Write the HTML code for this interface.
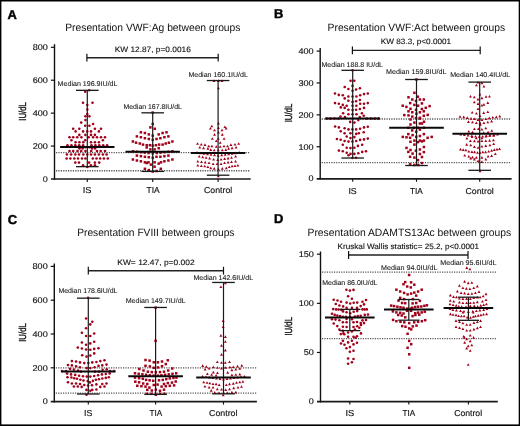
<!DOCTYPE html><html><head><meta charset="utf-8"><title>Figure</title><style>html,body{margin:0;padding:0;background:#fff;width:520px;height:426px;overflow:hidden}svg{display:block;will-change:transform}text{font-family:"Liberation Sans", sans-serif;text-rendering:geometricPrecision}</style></head><body>
<svg width="520" height="426" viewBox="0 0 520 426">
<rect x="0" y="0" width="520" height="426" fill="#fff"/>
<text x="7.60" y="18.50" font-size="12.9" font-weight="bold" fill="#000" stroke="#000" stroke-width="0.45">A</text>
<text x="65.20" y="31.00" font-size="10.5" font-weight="normal" fill="#111" textLength="175.30" lengthAdjust="spacingAndGlyphs">Presentation VWF:Ag between groups</text>
<text x="114.70" y="52.10" font-size="7.8" font-weight="normal" fill="#111" stroke="#111" stroke-width="0.12" textLength="76.10" lengthAdjust="spacingAndGlyphs">KW 12.87, p=0.0016</text>
<line x1="86.90" y1="57.70" x2="218.20" y2="57.70" stroke="#222" stroke-width="1.4" />
<line x1="86.90" y1="53.80" x2="86.90" y2="61.60" stroke="#111" stroke-width="1.2" />
<line x1="218.20" y1="53.80" x2="218.20" y2="61.60" stroke="#111" stroke-width="1.2" />
<line x1="56.00" y1="152.66" x2="250.20" y2="152.66" stroke="#555" stroke-width="1.3" stroke-dasharray="1.2 1.2"/>
<line x1="56.00" y1="170.77" x2="250.20" y2="170.77" stroke="#555" stroke-width="1.3" stroke-dasharray="1.2 1.2"/>
<g fill="#a2001a"><circle cx="85.20" cy="91.80" r="1.3"/><circle cx="89.20" cy="90.30" r="1.3"/><circle cx="83.00" cy="102.80" r="1.3"/><circle cx="92.50" cy="102.80" r="1.3"/><circle cx="87.30" cy="105.00" r="1.3"/><circle cx="87.30" cy="109.50" r="1.3"/><circle cx="87.30" cy="114.00" r="1.3"/><circle cx="85.40" cy="116.30" r="1.3"/><circle cx="89.40" cy="116.30" r="1.3"/><circle cx="85.40" cy="120.10" r="1.3"/><circle cx="81.20" cy="122.60" r="1.3"/><circle cx="93.10" cy="124.00" r="1.3"/><circle cx="85.20" cy="125.70" r="1.3"/><circle cx="89.40" cy="125.70" r="1.3"/><circle cx="73.20" cy="128.80" r="1.3"/><circle cx="79.30" cy="128.80" r="1.3"/><circle cx="94.90" cy="128.80" r="1.3"/><circle cx="101.00" cy="128.80" r="1.3"/><circle cx="75.60" cy="131.40" r="1.3"/><circle cx="83.10" cy="131.40" r="1.3"/><circle cx="87.30" cy="131.40" r="1.3"/><circle cx="91.00" cy="131.40" r="1.3"/><circle cx="98.90" cy="131.40" r="1.3"/><circle cx="79.30" cy="134.90" r="1.3"/><circle cx="85.40" cy="134.90" r="1.3"/><circle cx="91.00" cy="134.90" r="1.3"/><circle cx="94.90" cy="134.90" r="1.3"/><circle cx="69.50" cy="137.20" r="1.3"/><circle cx="73.20" cy="137.20" r="1.3"/><circle cx="77.20" cy="137.20" r="1.3"/><circle cx="81.40" cy="137.20" r="1.3"/><circle cx="88.60" cy="137.20" r="1.3"/><circle cx="93.10" cy="137.20" r="1.3"/><circle cx="97.00" cy="137.20" r="1.3"/><circle cx="101.00" cy="137.20" r="1.3"/><circle cx="105.00" cy="137.20" r="1.3"/><circle cx="71.40" cy="140.30" r="1.3"/><circle cx="85.20" cy="140.30" r="1.3"/><circle cx="102.90" cy="140.30" r="1.3"/><circle cx="75.60" cy="142.20" r="1.3"/><circle cx="79.40" cy="142.20" r="1.3"/><circle cx="83.30" cy="142.20" r="1.3"/><circle cx="91.00" cy="142.20" r="1.3"/><circle cx="94.90" cy="142.20" r="1.3"/><circle cx="98.90" cy="142.20" r="1.3"/><circle cx="67.50" cy="145.30" r="1.3"/><circle cx="71.40" cy="145.30" r="1.3"/><circle cx="75.30" cy="145.30" r="1.3"/><circle cx="79.20" cy="145.30" r="1.3"/><circle cx="83.10" cy="145.30" r="1.3"/><circle cx="91.50" cy="145.30" r="1.3"/><circle cx="95.40" cy="145.30" r="1.3"/><circle cx="99.30" cy="145.30" r="1.3"/><circle cx="103.20" cy="145.30" r="1.3"/><circle cx="107.10" cy="145.30" r="1.3"/><circle cx="85.30" cy="147.20" r="1.3"/><circle cx="89.30" cy="147.20" r="1.3"/><circle cx="79.50" cy="148.40" r="1.3"/><circle cx="82.60" cy="148.40" r="1.3"/><circle cx="92.00" cy="148.40" r="1.3"/><circle cx="95.10" cy="148.40" r="1.3"/><circle cx="69.50" cy="151.00" r="1.3"/><circle cx="73.20" cy="151.00" r="1.3"/><circle cx="77.50" cy="151.00" r="1.3"/><circle cx="81.20" cy="151.00" r="1.3"/><circle cx="85.40" cy="151.00" r="1.3"/><circle cx="91.20" cy="151.00" r="1.3"/><circle cx="97.00" cy="151.00" r="1.3"/><circle cx="100.70" cy="151.00" r="1.3"/><circle cx="105.00" cy="151.00" r="1.3"/><circle cx="66.90" cy="154.50" r="1.3"/><circle cx="71.10" cy="154.50" r="1.3"/><circle cx="75.30" cy="154.50" r="1.3"/><circle cx="79.00" cy="154.50" r="1.3"/><circle cx="83.30" cy="154.50" r="1.3"/><circle cx="87.30" cy="154.50" r="1.3"/><circle cx="91.00" cy="154.50" r="1.3"/><circle cx="94.90" cy="154.50" r="1.3"/><circle cx="98.90" cy="154.50" r="1.3"/><circle cx="102.90" cy="154.50" r="1.3"/><circle cx="106.60" cy="154.50" r="1.3"/><circle cx="66.60" cy="158.50" r="1.3"/><circle cx="70.40" cy="158.50" r="1.3"/><circle cx="74.30" cy="158.50" r="1.3"/><circle cx="78.00" cy="158.50" r="1.3"/><circle cx="82.00" cy="158.50" r="1.3"/><circle cx="85.40" cy="158.50" r="1.3"/><circle cx="92.80" cy="158.50" r="1.3"/><circle cx="96.50" cy="158.50" r="1.3"/><circle cx="100.20" cy="158.50" r="1.3"/><circle cx="103.90" cy="158.50" r="1.3"/><circle cx="107.80" cy="158.50" r="1.3"/><circle cx="75.30" cy="162.60" r="1.3"/><circle cx="79.00" cy="162.60" r="1.3"/><circle cx="89.10" cy="162.60" r="1.3"/><circle cx="94.90" cy="162.60" r="1.3"/><circle cx="99.20" cy="162.60" r="1.3"/><circle cx="83.10" cy="165.20" r="1.3"/><circle cx="90.90" cy="165.20" r="1.3"/><circle cx="94.90" cy="165.20" r="1.3"/><circle cx="87.30" cy="167.00" r="1.3"/><rect x="151.45" y="111.35" width="2.5" height="2.5"/><rect x="151.45" y="122.75" width="2.5" height="2.5"/><rect x="149.15" y="126.15" width="2.5" height="2.5"/><rect x="153.55" y="127.55" width="2.5" height="2.5"/><rect x="139.65" y="131.05" width="2.5" height="2.5"/><rect x="165.25" y="131.05" width="2.5" height="2.5"/><rect x="143.65" y="131.75" width="2.5" height="2.5"/><rect x="161.35" y="131.75" width="2.5" height="2.5"/><rect x="147.55" y="133.15" width="2.5" height="2.5"/><rect x="157.45" y="133.15" width="2.5" height="2.5"/><rect x="151.45" y="134.45" width="2.5" height="2.5"/><rect x="135.65" y="135.15" width="2.5" height="2.5"/><rect x="167.15" y="135.15" width="2.5" height="2.5"/><rect x="139.65" y="135.95" width="2.5" height="2.5"/><rect x="163.15" y="135.95" width="2.5" height="2.5"/><rect x="143.65" y="136.95" width="2.5" height="2.5"/><rect x="159.15" y="136.95" width="2.5" height="2.5"/><rect x="147.55" y="137.75" width="2.5" height="2.5"/><rect x="155.25" y="137.75" width="2.5" height="2.5"/><rect x="151.45" y="138.55" width="2.5" height="2.5"/><rect x="131.65" y="140.25" width="2.5" height="2.5"/><rect x="171.15" y="140.25" width="2.5" height="2.5"/><rect x="134.85" y="141.45" width="2.5" height="2.5"/><rect x="167.65" y="141.45" width="2.5" height="2.5"/><rect x="138.55" y="142.25" width="2.5" height="2.5"/><rect x="164.45" y="142.25" width="2.5" height="2.5"/><rect x="141.75" y="143.35" width="2.5" height="2.5"/><rect x="161.35" y="143.35" width="2.5" height="2.5"/><rect x="157.85" y="143.35" width="2.5" height="2.5"/><rect x="145.45" y="143.95" width="2.5" height="2.5"/><rect x="148.65" y="143.95" width="2.5" height="2.5"/><rect x="154.65" y="143.95" width="2.5" height="2.5"/><rect x="151.45" y="144.35" width="2.5" height="2.5"/><rect x="145.45" y="146.25" width="2.5" height="2.5"/><rect x="157.45" y="146.95" width="2.5" height="2.5"/><rect x="149.15" y="148.15" width="2.5" height="2.5"/><rect x="153.35" y="148.15" width="2.5" height="2.5"/><rect x="131.75" y="150.05" width="2.5" height="2.5"/><rect x="171.25" y="150.05" width="2.5" height="2.5"/><rect x="135.75" y="150.55" width="2.5" height="2.5"/><rect x="167.25" y="150.55" width="2.5" height="2.5"/><rect x="139.75" y="150.95" width="2.5" height="2.5"/><rect x="163.25" y="150.95" width="2.5" height="2.5"/><rect x="143.55" y="151.35" width="2.5" height="2.5"/><rect x="159.35" y="151.35" width="2.5" height="2.5"/><rect x="147.35" y="151.75" width="2.5" height="2.5"/><rect x="155.55" y="151.75" width="2.5" height="2.5"/><rect x="151.45" y="152.05" width="2.5" height="2.5"/><rect x="135.65" y="154.35" width="2.5" height="2.5"/><rect x="167.15" y="154.35" width="2.5" height="2.5"/><rect x="139.65" y="154.95" width="2.5" height="2.5"/><rect x="163.15" y="154.95" width="2.5" height="2.5"/><rect x="143.65" y="155.55" width="2.5" height="2.5"/><rect x="159.15" y="155.55" width="2.5" height="2.5"/><rect x="155.25" y="155.55" width="2.5" height="2.5"/><rect x="147.55" y="155.95" width="2.5" height="2.5"/><rect x="151.45" y="156.55" width="2.5" height="2.5"/><rect x="131.65" y="158.25" width="2.5" height="2.5"/><rect x="171.15" y="158.25" width="2.5" height="2.5"/><rect x="135.65" y="159.25" width="2.5" height="2.5"/><rect x="167.15" y="159.25" width="2.5" height="2.5"/><rect x="139.65" y="160.05" width="2.5" height="2.5"/><rect x="163.15" y="160.05" width="2.5" height="2.5"/><rect x="143.65" y="161.05" width="2.5" height="2.5"/><rect x="147.25" y="161.05" width="2.5" height="2.5"/><rect x="153.35" y="161.05" width="2.5" height="2.5"/><rect x="159.75" y="161.05" width="2.5" height="2.5"/><rect x="145.45" y="161.75" width="2.5" height="2.5"/><rect x="157.45" y="162.35" width="2.5" height="2.5"/><rect x="149.65" y="163.35" width="2.5" height="2.5"/><rect x="153.35" y="165.45" width="2.5" height="2.5"/><rect x="143.65" y="167.55" width="2.5" height="2.5"/><rect x="159.55" y="167.55" width="2.5" height="2.5"/><rect x="147.55" y="168.85" width="2.5" height="2.5"/><rect x="155.25" y="169.75" width="2.5" height="2.5"/><rect x="151.45" y="170.25" width="2.5" height="2.5"/><path d="M212.55 81.91L214.00 79.29L215.45 81.91Z"/><path d="M216.95 81.91L218.40 79.29L219.85 81.91Z"/><path d="M220.55 81.91L222.00 79.29L223.45 81.91Z"/><path d="M216.95 89.21L218.40 86.59L219.85 89.21Z"/><path d="M216.95 124.41L218.40 121.79L219.85 124.41Z"/><path d="M210.35 127.31L211.80 124.69L213.25 127.31Z"/><path d="M223.45 128.10L224.90 125.49L226.35 128.10Z"/><path d="M208.95 129.50L210.40 126.89L211.85 129.50Z"/><path d="M224.65 129.50L226.10 126.89L227.55 129.50Z"/><path d="M216.95 129.10L218.40 126.49L219.85 129.10Z"/><path d="M213.05 131.31L214.50 128.69L215.95 131.31Z"/><path d="M220.55 131.31L222.00 128.69L223.45 131.31Z"/><path d="M216.95 133.41L218.40 130.79L219.85 133.41Z"/><path d="M213.05 135.71L214.50 133.09L215.95 135.71Z"/><path d="M220.85 135.71L222.30 133.09L223.75 135.71Z"/><path d="M210.85 139.81L212.30 137.19L213.75 139.81Z"/><path d="M216.85 139.81L218.30 137.19L219.75 139.81Z"/><path d="M222.65 139.81L224.10 137.19L225.55 139.81Z"/><path d="M214.85 142.11L216.30 139.50L217.75 142.11Z"/><path d="M218.75 143.81L220.20 141.19L221.65 143.81Z"/><path d="M196.05 144.81L197.50 142.19L198.95 144.81Z"/><path d="M237.25 144.81L238.70 142.19L240.15 144.81Z"/><path d="M199.85 145.50L201.30 142.89L202.75 145.50Z"/><path d="M233.55 145.50L235.00 142.89L236.45 145.50Z"/><path d="M203.55 145.91L205.00 143.29L206.45 145.91Z"/><path d="M229.45 145.91L230.90 143.29L232.35 145.91Z"/><path d="M207.25 147.31L208.70 144.69L210.15 147.31Z"/><path d="M210.45 147.31L211.90 144.69L213.35 147.31Z"/><path d="M222.55 147.31L224.00 144.69L225.45 147.31Z"/><path d="M226.05 147.31L227.50 144.69L228.95 147.31Z"/><path d="M214.85 147.81L216.30 145.19L217.75 147.81Z"/><path d="M218.75 147.81L220.20 145.19L221.65 147.81Z"/><path d="M198.35 148.61L199.80 146.00L201.25 148.61Z"/><path d="M234.65 148.61L236.10 146.00L237.55 148.61Z"/><path d="M202.15 149.21L203.60 146.59L205.05 149.21Z"/><path d="M230.65 149.21L232.10 146.59L233.55 149.21Z"/><path d="M206.45 149.71L207.90 147.09L209.35 149.71Z"/><path d="M227.15 149.71L228.60 147.09L230.05 149.71Z"/><path d="M209.35 150.91L210.80 148.29L212.25 150.91Z"/><path d="M224.35 150.91L225.80 148.29L227.25 150.91Z"/><path d="M212.75 151.31L214.20 148.69L215.65 151.31Z"/><path d="M216.85 151.31L218.30 148.69L219.75 151.31Z"/><path d="M220.85 151.31L222.30 148.69L223.75 151.31Z"/><path d="M195.55 153.71L197.00 151.09L198.45 153.71Z"/><path d="M237.75 153.71L239.20 151.09L240.65 153.71Z"/><path d="M199.05 154.21L200.50 151.59L201.95 154.21Z"/><path d="M234.25 154.21L235.70 151.59L237.15 154.21Z"/><path d="M202.55 154.71L204.00 152.09L205.45 154.71Z"/><path d="M230.75 154.71L232.20 152.09L233.65 154.71Z"/><path d="M206.05 155.21L207.50 152.59L208.95 155.21Z"/><path d="M227.25 155.21L228.70 152.59L230.15 155.21Z"/><path d="M209.55 155.71L211.00 153.09L212.45 155.71Z"/><path d="M223.75 155.71L225.20 153.09L226.65 155.71Z"/><path d="M213.05 156.21L214.50 153.59L215.95 156.21Z"/><path d="M220.25 156.21L221.70 153.59L223.15 156.21Z"/><path d="M216.65 156.71L218.10 154.09L219.55 156.71Z"/><path d="M197.75 157.61L199.20 155.00L200.65 157.61Z"/><path d="M234.15 157.61L235.60 155.00L237.05 157.61Z"/><path d="M201.25 158.21L202.70 155.59L204.15 158.21Z"/><path d="M204.65 158.81L206.10 156.19L207.55 158.81Z"/><path d="M230.05 158.81L231.50 156.19L232.95 158.81Z"/><path d="M208.15 159.41L209.60 156.79L211.05 159.41Z"/><path d="M226.65 159.41L228.10 156.79L229.55 159.41Z"/><path d="M223.15 159.91L224.60 157.29L226.05 159.91Z"/><path d="M212.15 160.50L213.60 157.89L215.05 160.50Z"/><path d="M219.65 160.50L221.10 157.89L222.55 160.50Z"/><path d="M216.25 161.11L217.70 158.50L219.15 161.11Z"/><path d="M196.35 162.61L197.80 160.00L199.25 162.61Z"/><path d="M234.15 162.61L235.60 160.00L237.05 162.61Z"/><path d="M200.05 163.11L201.50 160.50L202.95 163.11Z"/><path d="M230.05 163.11L231.50 160.50L232.95 163.11Z"/><path d="M203.75 163.41L205.20 160.79L206.65 163.41Z"/><path d="M226.65 163.41L228.10 160.79L229.55 163.41Z"/><path d="M207.55 164.00L209.00 161.39L210.45 164.00Z"/><path d="M223.15 164.00L224.60 161.39L226.05 164.00Z"/><path d="M211.65 165.11L213.10 162.50L214.55 165.11Z"/><path d="M215.65 165.11L217.10 162.50L218.55 165.11Z"/><path d="M219.65 165.11L221.10 162.50L222.55 165.11Z"/><path d="M196.35 166.50L197.80 163.89L199.25 166.50Z"/><path d="M236.45 166.50L237.90 163.89L239.35 166.50Z"/><path d="M199.85 167.00L201.30 164.39L202.75 167.00Z"/><path d="M233.55 167.00L235.00 164.39L236.45 167.00Z"/><path d="M203.35 167.31L204.80 164.69L206.25 167.31Z"/><path d="M230.65 167.31L232.10 164.69L233.55 167.31Z"/><path d="M206.45 168.00L207.90 165.39L209.35 168.00Z"/><path d="M227.75 168.00L229.20 165.39L230.65 168.00Z"/><path d="M209.35 169.21L210.80 166.59L212.25 169.21Z"/><path d="M224.85 169.21L226.30 166.59L227.75 169.21Z"/><path d="M212.75 169.71L214.20 167.09L215.65 169.71Z"/><path d="M220.85 169.71L222.30 167.09L223.75 169.71Z"/><path d="M216.85 170.31L218.30 167.69L219.75 170.31Z"/><path d="M216.85 177.31L218.30 174.69L219.75 177.31Z"/></g>
<line x1="87.30" y1="90.33" x2="87.30" y2="166.65" stroke="#1a1a1a" stroke-width="1.2" />
<line x1="76.00" y1="90.33" x2="98.60" y2="90.33" stroke="#1a1a1a" stroke-width="1.3" />
<line x1="76.00" y1="166.65" x2="98.60" y2="166.65" stroke="#1a1a1a" stroke-width="1.3" />
<line x1="60.10" y1="146.89" x2="114.50" y2="146.89" stroke="#0a0a0a" stroke-width="2.0" />
<line x1="152.70" y1="112.82" x2="152.70" y2="171.43" stroke="#1a1a1a" stroke-width="1.2" />
<line x1="141.40" y1="112.82" x2="164.00" y2="112.82" stroke="#1a1a1a" stroke-width="1.3" />
<line x1="141.40" y1="171.43" x2="164.00" y2="171.43" stroke="#1a1a1a" stroke-width="1.3" />
<line x1="125.50" y1="151.68" x2="179.90" y2="151.68" stroke="#0a0a0a" stroke-width="2.0" />
<line x1="218.10" y1="80.55" x2="218.10" y2="175.21" stroke="#1a1a1a" stroke-width="1.2" />
<line x1="206.80" y1="80.55" x2="229.40" y2="80.55" stroke="#1a1a1a" stroke-width="1.3" />
<line x1="206.80" y1="175.21" x2="229.40" y2="175.21" stroke="#1a1a1a" stroke-width="1.3" />
<line x1="190.90" y1="152.94" x2="245.30" y2="152.94" stroke="#0a0a0a" stroke-width="2.0" />
<line x1="54.50" y1="44.20" x2="54.50" y2="179.80" stroke="#111" stroke-width="1.4" />
<line x1="51.00" y1="179.00" x2="250.70" y2="179.00" stroke="#1a1a1a" stroke-width="1.7" />
<text x="47.90" y="181.80" font-size="8.3" fill="#111" stroke="#111" stroke-width="0.15" text-anchor="end" textLength="5.05" lengthAdjust="spacingAndGlyphs">0</text>
<line x1="50.90" y1="146.07" x2="54.50" y2="146.07" stroke="#111" stroke-width="1.2" />
<text x="47.90" y="148.88" font-size="8.3" fill="#111" stroke="#111" stroke-width="0.15" text-anchor="end" textLength="15.15" lengthAdjust="spacingAndGlyphs">200</text>
<line x1="50.90" y1="113.15" x2="54.50" y2="113.15" stroke="#111" stroke-width="1.2" />
<text x="47.90" y="115.95" font-size="8.3" fill="#111" stroke="#111" stroke-width="0.15" text-anchor="end" textLength="15.15" lengthAdjust="spacingAndGlyphs">400</text>
<line x1="50.90" y1="80.23" x2="54.50" y2="80.23" stroke="#111" stroke-width="1.2" />
<text x="47.90" y="83.03" font-size="8.3" fill="#111" stroke="#111" stroke-width="0.15" text-anchor="end" textLength="15.15" lengthAdjust="spacingAndGlyphs">600</text>
<line x1="50.90" y1="47.30" x2="54.50" y2="47.30" stroke="#111" stroke-width="1.2" />
<text x="47.90" y="50.10" font-size="8.3" fill="#111" stroke="#111" stroke-width="0.15" text-anchor="end" textLength="15.15" lengthAdjust="spacingAndGlyphs">800</text>
<line x1="87.30" y1="179.00" x2="87.30" y2="182.00" stroke="#111" stroke-width="1.1" />
<line x1="152.70" y1="179.00" x2="152.70" y2="182.00" stroke="#111" stroke-width="1.1" />
<line x1="218.10" y1="179.00" x2="218.10" y2="182.00" stroke="#111" stroke-width="1.1" />
<text x="82.70" y="193.40" font-size="8.6" font-weight="normal" fill="#111" stroke="#111" stroke-width="0.15" textLength="8.70" lengthAdjust="spacingAndGlyphs">IS</text>
<text x="146.50" y="193.40" font-size="8.6" font-weight="normal" fill="#111" stroke="#111" stroke-width="0.15" textLength="13.10" lengthAdjust="spacingAndGlyphs">TIA</text>
<text x="204.00" y="193.40" font-size="8.6" font-weight="normal" fill="#111" stroke="#111" stroke-width="0.15" textLength="28.30" lengthAdjust="spacingAndGlyphs">Control</text>
<text x="0" y="0" font-size="10.2" fill="#111" stroke="#111" stroke-width="0.35" text-anchor="middle" textLength="18.6" lengthAdjust="spacingAndGlyphs" transform="translate(26.10,111.40) rotate(-90)">IU/dL</text>
<text x="57.60" y="86.30" font-size="7.0" font-weight="normal" fill="#1a1a1a" stroke="#1a1a1a" stroke-width="0.1" textLength="59.90" lengthAdjust="spacingAndGlyphs">Median 196.9IU/dL</text>
<text x="123.40" y="108.80" font-size="7.0" font-weight="normal" fill="#1a1a1a" stroke="#1a1a1a" stroke-width="0.1" textLength="58.50" lengthAdjust="spacingAndGlyphs">Median 167.8IU/dL</text>
<text x="188.40" y="76.50" font-size="7.0" font-weight="normal" fill="#1a1a1a" stroke="#1a1a1a" stroke-width="0.1" textLength="59.50" lengthAdjust="spacingAndGlyphs">Median 160.1IU/dL</text>
<text x="273.90" y="18.40" font-size="12.9" font-weight="bold" fill="#000" stroke="#000" stroke-width="0.45">B</text>
<text x="327.60" y="30.80" font-size="10.5" font-weight="normal" fill="#111" textLength="177.50" lengthAdjust="spacingAndGlyphs">Presentation VWF:Act between groups</text>
<text x="380.80" y="44.10" font-size="7.8" font-weight="normal" fill="#111" stroke="#111" stroke-width="0.12" textLength="70.40" lengthAdjust="spacingAndGlyphs">KW 83.3, p&lt;0.0001</text>
<line x1="352.40" y1="50.40" x2="480.20" y2="50.40" stroke="#222" stroke-width="1.4" />
<line x1="352.40" y1="46.50" x2="352.40" y2="54.30" stroke="#111" stroke-width="1.2" />
<line x1="480.20" y1="46.50" x2="480.20" y2="54.30" stroke="#111" stroke-width="1.2" />
<line x1="321.70" y1="118.99" x2="511.10" y2="118.99" stroke="#555" stroke-width="1.3" stroke-dasharray="1.2 1.2"/>
<line x1="321.70" y1="162.66" x2="511.10" y2="162.66" stroke="#555" stroke-width="1.3" stroke-dasharray="1.2 1.2"/>
<g fill="#a2001a"><circle cx="352.50" cy="70.30" r="1.3"/><circle cx="350.60" cy="80.80" r="1.3"/><circle cx="354.30" cy="80.80" r="1.3"/><circle cx="352.50" cy="85.90" r="1.3"/><circle cx="344.70" cy="87.00" r="1.3"/><circle cx="359.90" cy="88.20" r="1.3"/><circle cx="348.40" cy="89.00" r="1.3"/><circle cx="356.10" cy="89.60" r="1.3"/><circle cx="352.50" cy="90.80" r="1.3"/><circle cx="335.00" cy="93.50" r="1.3"/><circle cx="367.80" cy="93.50" r="1.3"/><circle cx="364.00" cy="94.10" r="1.3"/><circle cx="338.80" cy="94.90" r="1.3"/><circle cx="342.80" cy="95.30" r="1.3"/><circle cx="360.20" cy="95.30" r="1.3"/><circle cx="348.40" cy="96.50" r="1.3"/><circle cx="352.50" cy="96.50" r="1.3"/><circle cx="356.40" cy="96.50" r="1.3"/><circle cx="344.70" cy="98.40" r="1.3"/><circle cx="359.90" cy="100.00" r="1.3"/><circle cx="348.40" cy="100.80" r="1.3"/><circle cx="356.10" cy="101.30" r="1.3"/><circle cx="352.50" cy="101.90" r="1.3"/><circle cx="335.00" cy="103.10" r="1.3"/><circle cx="367.80" cy="103.10" r="1.3"/><circle cx="338.80" cy="103.80" r="1.3"/><circle cx="360.20" cy="103.80" r="1.3"/><circle cx="364.00" cy="103.80" r="1.3"/><circle cx="342.80" cy="104.90" r="1.3"/><circle cx="346.70" cy="105.70" r="1.3"/><circle cx="352.50" cy="105.70" r="1.3"/><circle cx="356.40" cy="105.70" r="1.3"/><circle cx="340.80" cy="107.40" r="1.3"/><circle cx="344.70" cy="107.90" r="1.3"/><circle cx="364.00" cy="107.90" r="1.3"/><circle cx="359.90" cy="109.00" r="1.3"/><circle cx="348.40" cy="109.80" r="1.3"/><circle cx="356.10" cy="109.80" r="1.3"/><circle cx="352.50" cy="110.10" r="1.3"/><circle cx="343.10" cy="113.30" r="1.3"/><circle cx="361.90" cy="113.30" r="1.3"/><circle cx="348.40" cy="114.20" r="1.3"/><circle cx="352.50" cy="114.20" r="1.3"/><circle cx="356.50" cy="114.20" r="1.3"/><circle cx="340.50" cy="116.50" r="1.3"/><circle cx="345.00" cy="117.00" r="1.3"/><circle cx="359.80" cy="117.00" r="1.3"/><circle cx="363.70" cy="115.80" r="1.3"/><circle cx="326.50" cy="118.60" r="1.3"/><circle cx="330.50" cy="118.60" r="1.3"/><circle cx="334.50" cy="118.60" r="1.3"/><circle cx="338.50" cy="118.60" r="1.3"/><circle cx="366.80" cy="118.60" r="1.3"/><circle cx="370.80" cy="118.60" r="1.3"/><circle cx="374.80" cy="118.60" r="1.3"/><circle cx="378.50" cy="118.60" r="1.3"/><circle cx="358.30" cy="120.10" r="1.3"/><circle cx="350.20" cy="121.90" r="1.3"/><circle cx="354.40" cy="122.60" r="1.3"/><circle cx="335.10" cy="126.50" r="1.3"/><circle cx="367.80" cy="126.80" r="1.3"/><circle cx="338.90" cy="127.40" r="1.3"/><circle cx="364.00" cy="127.40" r="1.3"/><circle cx="344.60" cy="128.30" r="1.3"/><circle cx="360.10" cy="128.70" r="1.3"/><circle cx="348.50" cy="129.40" r="1.3"/><circle cx="352.40" cy="129.40" r="1.3"/><circle cx="356.20" cy="129.40" r="1.3"/><circle cx="340.70" cy="131.30" r="1.3"/><circle cx="363.70" cy="132.20" r="1.3"/><circle cx="344.60" cy="133.20" r="1.3"/><circle cx="350.50" cy="133.20" r="1.3"/><circle cx="358.80" cy="133.20" r="1.3"/><circle cx="356.20" cy="133.90" r="1.3"/><circle cx="346.70" cy="136.50" r="1.3"/><circle cx="354.40" cy="137.10" r="1.3"/><circle cx="350.50" cy="138.10" r="1.3"/><circle cx="367.80" cy="138.60" r="1.3"/><circle cx="336.90" cy="139.00" r="1.3"/><circle cx="364.00" cy="139.40" r="1.3"/><circle cx="340.70" cy="139.70" r="1.3"/><circle cx="360.10" cy="139.90" r="1.3"/><circle cx="344.60" cy="141.00" r="1.3"/><circle cx="356.20" cy="141.00" r="1.3"/><circle cx="348.50" cy="141.60" r="1.3"/><circle cx="352.40" cy="141.60" r="1.3"/><circle cx="342.80" cy="144.80" r="1.3"/><circle cx="362.20" cy="144.80" r="1.3"/><circle cx="357.90" cy="145.90" r="1.3"/><circle cx="346.70" cy="147.70" r="1.3"/><circle cx="354.40" cy="147.70" r="1.3"/><circle cx="350.50" cy="148.10" r="1.3"/><circle cx="338.90" cy="150.60" r="1.3"/><circle cx="342.80" cy="151.30" r="1.3"/><circle cx="366.00" cy="151.30" r="1.3"/><circle cx="362.20" cy="151.90" r="1.3"/><circle cx="346.70" cy="152.80" r="1.3"/><circle cx="358.30" cy="153.20" r="1.3"/><circle cx="350.50" cy="153.90" r="1.3"/><circle cx="354.40" cy="153.90" r="1.3"/><circle cx="348.50" cy="155.20" r="1.3"/><circle cx="356.00" cy="157.70" r="1.3"/><circle cx="352.40" cy="158.00" r="1.3"/><rect x="415.15" y="78.25" width="2.5" height="2.5"/><rect x="413.15" y="91.55" width="2.5" height="2.5"/><rect x="416.65" y="95.45" width="2.5" height="2.5"/><rect x="407.25" y="96.05" width="2.5" height="2.5"/><rect x="411.05" y="98.25" width="2.5" height="2.5"/><rect x="418.65" y="98.25" width="2.5" height="2.5"/><rect x="422.55" y="98.25" width="2.5" height="2.5"/><rect x="414.75" y="99.75" width="2.5" height="2.5"/><rect x="408.95" y="101.85" width="2.5" height="2.5"/><rect x="420.65" y="102.15" width="2.5" height="2.5"/><rect x="413.15" y="103.65" width="2.5" height="2.5"/><rect x="401.45" y="104.45" width="2.5" height="2.5"/><rect x="416.85" y="104.45" width="2.5" height="2.5"/><rect x="428.35" y="104.85" width="2.5" height="2.5"/><rect x="405.15" y="105.65" width="2.5" height="2.5"/><rect x="424.55" y="106.55" width="2.5" height="2.5"/><rect x="409.25" y="107.55" width="2.5" height="2.5"/><rect x="420.65" y="107.75" width="2.5" height="2.5"/><rect x="414.75" y="108.65" width="2.5" height="2.5"/><rect x="407.25" y="110.05" width="2.5" height="2.5"/><rect x="422.55" y="110.05" width="2.5" height="2.5"/><rect x="411.05" y="111.05" width="2.5" height="2.5"/><rect x="418.65" y="111.05" width="2.5" height="2.5"/><rect x="415.15" y="112.45" width="2.5" height="2.5"/><rect x="426.45" y="113.65" width="2.5" height="2.5"/><rect x="403.05" y="113.85" width="2.5" height="2.5"/><rect x="407.25" y="114.15" width="2.5" height="2.5"/><rect x="422.55" y="114.55" width="2.5" height="2.5"/><rect x="411.05" y="115.35" width="2.5" height="2.5"/><rect x="418.65" y="116.55" width="2.5" height="2.5"/><rect x="414.75" y="116.85" width="2.5" height="2.5"/><rect x="409.25" y="118.25" width="2.5" height="2.5"/><rect x="418.65" y="117.35" width="2.5" height="2.5"/><rect x="422.75" y="120.45" width="2.5" height="2.5"/><rect x="413.15" y="121.35" width="2.5" height="2.5"/><rect x="418.65" y="122.25" width="2.5" height="2.5"/><rect x="420.75" y="122.25" width="2.5" height="2.5"/><rect x="409.25" y="123.25" width="2.5" height="2.5"/><rect x="407.05" y="126.55" width="2.5" height="2.5"/><rect x="412.55" y="126.55" width="2.5" height="2.5"/><rect x="416.75" y="126.55" width="2.5" height="2.5"/><rect x="422.65" y="126.55" width="2.5" height="2.5"/><rect x="410.95" y="129.15" width="2.5" height="2.5"/><rect x="418.65" y="128.35" width="2.5" height="2.5"/><rect x="414.95" y="130.45" width="2.5" height="2.5"/><rect x="407.05" y="132.85" width="2.5" height="2.5"/><rect x="422.65" y="132.85" width="2.5" height="2.5"/><rect x="411.35" y="133.85" width="2.5" height="2.5"/><rect x="418.65" y="134.75" width="2.5" height="2.5"/><rect x="401.55" y="135.65" width="2.5" height="2.5"/><rect x="414.95" y="135.65" width="2.5" height="2.5"/><rect x="430.45" y="135.65" width="2.5" height="2.5"/><rect x="405.25" y="136.05" width="2.5" height="2.5"/><rect x="408.85" y="136.55" width="2.5" height="2.5"/><rect x="426.35" y="136.55" width="2.5" height="2.5"/><rect x="413.15" y="139.35" width="2.5" height="2.5"/><rect x="418.65" y="139.35" width="2.5" height="2.5"/><rect x="422.65" y="139.35" width="2.5" height="2.5"/><rect x="420.75" y="140.15" width="2.5" height="2.5"/><rect x="409.25" y="140.55" width="2.5" height="2.5"/><rect x="416.75" y="140.85" width="2.5" height="2.5"/><rect x="413.15" y="143.35" width="2.5" height="2.5"/><rect x="422.65" y="145.75" width="2.5" height="2.5"/><rect x="405.25" y="146.65" width="2.5" height="2.5"/><rect x="418.65" y="148.25" width="2.5" height="2.5"/><rect x="409.25" y="148.75" width="2.5" height="2.5"/><rect x="414.65" y="149.45" width="2.5" height="2.5"/><rect x="407.05" y="150.65" width="2.5" height="2.5"/><rect x="422.65" y="150.85" width="2.5" height="2.5"/><rect x="411.35" y="152.35" width="2.5" height="2.5"/><rect x="418.65" y="152.75" width="2.5" height="2.5"/><rect x="408.85" y="155.55" width="2.5" height="2.5"/><rect x="420.75" y="155.75" width="2.5" height="2.5"/><rect x="413.15" y="156.35" width="2.5" height="2.5"/><rect x="416.75" y="158.85" width="2.5" height="2.5"/><rect x="420.75" y="161.85" width="2.5" height="2.5"/><rect x="408.85" y="163.05" width="2.5" height="2.5"/><rect x="413.15" y="163.75" width="2.5" height="2.5"/><rect x="417.05" y="163.75" width="2.5" height="2.5"/><path d="M476.55 83.41L478.00 80.79L479.45 83.41Z"/><path d="M480.45 84.21L481.90 81.59L483.35 84.21Z"/><path d="M474.95 86.31L476.40 83.69L477.85 86.31Z"/><path d="M482.45 87.51L483.90 84.89L485.35 87.51Z"/><path d="M478.45 95.51L479.90 92.89L481.35 95.51Z"/><path d="M469.05 97.51L470.50 94.89L471.95 97.51Z"/><path d="M488.05 97.51L489.50 94.89L490.95 97.51Z"/><path d="M484.55 97.81L486.00 95.19L487.45 97.81Z"/><path d="M472.85 98.31L474.30 95.69L475.75 98.31Z"/><path d="M480.45 99.21L481.90 96.59L483.35 99.21Z"/><path d="M476.55 100.41L478.00 97.79L479.45 100.41Z"/><path d="M472.85 103.31L474.30 100.69L475.75 103.31Z"/><path d="M486.35 103.91L487.80 101.29L489.25 103.91Z"/><path d="M476.55 104.91L478.00 102.29L479.45 104.91Z"/><path d="M482.45 105.71L483.90 103.09L485.35 105.71Z"/><path d="M480.45 106.51L481.90 103.89L483.35 106.51Z"/><path d="M476.55 110.01L478.00 107.39L479.45 110.01Z"/><path d="M486.35 113.11L487.80 110.49L489.25 113.11Z"/><path d="M470.75 113.51L472.20 110.89L473.65 113.51Z"/><path d="M482.25 113.91L483.70 111.29L485.15 113.91Z"/><path d="M474.95 114.51L476.40 111.89L477.85 114.51Z"/><path d="M478.45 117.01L479.90 114.39L481.35 117.01Z"/><path d="M498.35 117.41L499.80 114.79L501.25 117.41Z"/><path d="M458.55 117.81L460.00 115.19L461.45 117.81Z"/><path d="M462.25 118.21L463.70 115.59L465.15 118.21Z"/><path d="M494.85 118.21L496.30 115.59L497.75 118.21Z"/><path d="M491.35 118.61L492.80 115.99L494.25 118.61Z"/><path d="M465.75 118.91L467.20 116.29L468.65 118.91Z"/><path d="M487.85 119.21L489.30 116.59L490.75 119.21Z"/><path d="M469.55 119.71L471.00 117.09L472.45 119.71Z"/><path d="M473.05 120.11L474.50 117.49L475.95 120.11Z"/><path d="M484.35 120.11L485.80 117.49L487.25 120.11Z"/><path d="M476.55 120.91L478.00 118.29L479.45 120.91Z"/><path d="M480.45 120.91L481.90 118.29L483.35 120.91Z"/><path d="M490.15 122.41L491.60 119.79L493.05 122.41Z"/><path d="M466.95 122.91L468.40 120.29L469.85 122.91Z"/><path d="M471.05 123.31L472.50 120.69L473.95 123.31Z"/><path d="M486.35 123.31L487.80 120.69L489.25 123.31Z"/><path d="M474.95 124.11L476.40 121.49L477.85 124.11Z"/><path d="M482.45 124.11L483.90 121.49L485.35 124.11Z"/><path d="M478.65 124.41L480.10 121.79L481.55 124.41Z"/><path d="M478.95 125.81L480.40 123.19L481.85 125.81Z"/><path d="M484.35 129.31L485.80 126.69L487.25 129.31Z"/><path d="M472.95 130.11L474.40 127.50L475.85 130.11Z"/><path d="M476.95 130.11L478.40 127.50L479.85 130.11Z"/><path d="M480.45 130.50L481.90 127.89L483.35 130.50Z"/><path d="M490.35 131.81L491.80 129.19L493.25 131.81Z"/><path d="M467.35 132.61L468.80 130.00L470.25 132.61Z"/><path d="M471.05 133.31L472.50 130.69L473.95 133.31Z"/><path d="M486.65 133.31L488.10 130.69L489.55 133.31Z"/><path d="M482.25 133.91L483.70 131.29L485.15 133.91Z"/><path d="M459.25 135.50L460.70 132.89L462.15 135.50Z"/><path d="M496.05 135.50L497.50 132.89L498.95 135.50Z"/><path d="M462.95 136.00L464.40 133.39L465.85 136.00Z"/><path d="M492.35 136.00L493.80 133.39L495.25 136.00Z"/><path d="M466.65 136.50L468.10 133.89L469.55 136.50Z"/><path d="M488.65 136.50L490.10 133.89L491.55 136.50Z"/><path d="M470.35 137.00L471.80 134.39L473.25 137.00Z"/><path d="M484.95 137.00L486.40 134.39L487.85 137.00Z"/><path d="M474.05 137.50L475.50 134.89L476.95 137.50Z"/><path d="M481.25 137.50L482.70 134.89L484.15 137.50Z"/><path d="M477.75 137.81L479.20 135.19L480.65 137.81Z"/><path d="M488.15 136.71L489.60 134.09L491.05 136.71Z"/><path d="M492.25 136.71L493.70 134.09L495.15 136.71Z"/><path d="M484.35 137.61L485.80 135.00L487.25 137.61Z"/><path d="M470.65 138.00L472.10 135.39L473.55 138.00Z"/><path d="M474.85 139.21L476.30 136.59L477.75 139.21Z"/><path d="M480.45 139.21L481.90 136.59L483.35 139.21Z"/><path d="M465.45 139.50L466.90 136.89L468.35 139.50Z"/><path d="M491.95 141.31L493.40 138.69L494.85 141.31Z"/><path d="M488.15 141.71L489.60 139.09L491.05 141.71Z"/><path d="M468.95 142.00L470.40 139.39L471.85 142.00Z"/><path d="M480.45 142.00L481.90 139.39L483.35 142.00Z"/><path d="M484.35 142.00L485.80 139.39L487.25 142.00Z"/><path d="M472.95 142.21L474.40 139.59L475.85 142.21Z"/><path d="M476.65 142.61L478.10 140.00L479.55 142.61Z"/><path d="M492.25 145.11L493.70 142.50L495.15 145.11Z"/><path d="M465.25 145.71L466.70 143.09L468.15 145.71Z"/><path d="M469.25 146.31L470.70 143.69L472.15 146.31Z"/><path d="M488.45 146.31L489.90 143.69L491.35 146.31Z"/><path d="M484.35 146.91L485.80 144.29L487.25 146.91Z"/><path d="M480.45 147.61L481.90 145.00L483.35 147.61Z"/><path d="M472.95 147.91L474.40 145.29L475.85 147.91Z"/><path d="M476.65 148.81L478.10 146.19L479.55 148.81Z"/><path d="M498.05 150.00L499.50 147.39L500.95 150.00Z"/><path d="M459.05 150.41L460.50 147.79L461.95 150.41Z"/><path d="M495.55 150.41L497.00 147.79L498.45 150.41Z"/><path d="M461.75 150.91L463.20 148.29L464.65 150.91Z"/><path d="M492.85 150.91L494.30 148.29L495.75 150.91Z"/><path d="M464.45 151.31L465.90 148.69L467.35 151.31Z"/><path d="M490.15 151.71L491.60 149.09L493.05 151.71Z"/><path d="M467.35 152.50L468.80 149.89L470.25 152.50Z"/><path d="M487.25 152.50L488.70 149.89L490.15 152.50Z"/><path d="M470.45 152.91L471.90 150.29L473.35 152.91Z"/><path d="M473.15 153.21L474.60 150.59L476.05 153.21Z"/><path d="M481.35 153.21L482.80 150.59L484.25 153.21Z"/><path d="M484.15 153.21L485.60 150.59L487.05 153.21Z"/><path d="M476.05 153.81L477.50 151.19L478.95 153.81Z"/><path d="M478.55 153.81L480.00 151.19L481.45 153.81Z"/><path d="M493.85 155.00L495.30 152.39L496.75 155.00Z"/><path d="M463.25 156.61L464.70 154.00L466.15 156.61Z"/><path d="M490.15 156.91L491.60 154.29L493.05 156.91Z"/><path d="M467.35 157.50L468.80 154.89L470.25 157.50Z"/><path d="M486.65 157.50L488.10 154.89L489.55 157.50Z"/><path d="M471.05 158.41L472.50 155.79L473.95 158.41Z"/><path d="M474.85 158.71L476.30 156.09L477.75 158.71Z"/><path d="M480.45 158.71L481.90 156.09L483.35 158.71Z"/><path d="M469.25 159.41L470.70 156.79L472.15 159.41Z"/><path d="M472.95 160.41L474.40 157.79L475.85 160.41Z"/><path d="M484.35 160.41L485.80 157.79L487.25 160.41Z"/><path d="M476.65 162.11L478.10 159.50L479.55 162.11Z"/><path d="M480.45 162.91L481.90 160.29L483.35 162.91Z"/><path d="M478.55 172.21L480.00 169.59L481.45 172.21Z"/></g>
<line x1="352.70" y1="70.32" x2="352.70" y2="158.01" stroke="#1a1a1a" stroke-width="1.2" />
<line x1="341.40" y1="70.32" x2="364.00" y2="70.32" stroke="#1a1a1a" stroke-width="1.3" />
<line x1="341.40" y1="158.01" x2="364.00" y2="158.01" stroke="#1a1a1a" stroke-width="1.3" />
<line x1="325.40" y1="118.42" x2="380.00" y2="118.42" stroke="#0a0a0a" stroke-width="2.0" />
<line x1="416.50" y1="79.50" x2="416.50" y2="165.53" stroke="#1a1a1a" stroke-width="1.2" />
<line x1="405.20" y1="79.50" x2="427.80" y2="79.50" stroke="#1a1a1a" stroke-width="1.3" />
<line x1="405.20" y1="165.53" x2="427.80" y2="165.53" stroke="#1a1a1a" stroke-width="1.3" />
<line x1="389.20" y1="127.66" x2="443.80" y2="127.66" stroke="#0a0a0a" stroke-width="2.0" />
<line x1="479.70" y1="82.11" x2="479.70" y2="170.31" stroke="#1a1a1a" stroke-width="1.2" />
<line x1="468.40" y1="82.11" x2="491.00" y2="82.11" stroke="#1a1a1a" stroke-width="1.3" />
<line x1="468.40" y1="170.31" x2="491.00" y2="170.31" stroke="#1a1a1a" stroke-width="1.3" />
<line x1="452.40" y1="133.85" x2="507.00" y2="133.85" stroke="#0a0a0a" stroke-width="2.0" />
<line x1="320.20" y1="48.00" x2="320.20" y2="179.60" stroke="#111" stroke-width="1.4" />
<line x1="316.70" y1="178.80" x2="511.60" y2="178.80" stroke="#1a1a1a" stroke-width="1.7" />
<text x="313.60" y="181.40" font-size="8.3" fill="#111" stroke="#111" stroke-width="0.15" text-anchor="end" textLength="5.05" lengthAdjust="spacingAndGlyphs">0</text>
<line x1="316.60" y1="146.72" x2="320.20" y2="146.72" stroke="#111" stroke-width="1.2" />
<text x="313.60" y="149.53" font-size="8.3" fill="#111" stroke="#111" stroke-width="0.15" text-anchor="end" textLength="15.15" lengthAdjust="spacingAndGlyphs">100</text>
<line x1="316.60" y1="114.85" x2="320.20" y2="114.85" stroke="#111" stroke-width="1.2" />
<text x="313.60" y="117.65" font-size="8.3" fill="#111" stroke="#111" stroke-width="0.15" text-anchor="end" textLength="15.15" lengthAdjust="spacingAndGlyphs">200</text>
<line x1="316.60" y1="82.97" x2="320.20" y2="82.97" stroke="#111" stroke-width="1.2" />
<text x="313.60" y="85.77" font-size="8.3" fill="#111" stroke="#111" stroke-width="0.15" text-anchor="end" textLength="15.15" lengthAdjust="spacingAndGlyphs">300</text>
<line x1="316.60" y1="51.10" x2="320.20" y2="51.10" stroke="#111" stroke-width="1.2" />
<text x="313.60" y="53.90" font-size="8.3" fill="#111" stroke="#111" stroke-width="0.15" text-anchor="end" textLength="15.15" lengthAdjust="spacingAndGlyphs">400</text>
<line x1="352.70" y1="178.80" x2="352.70" y2="181.80" stroke="#111" stroke-width="1.1" />
<line x1="416.50" y1="178.80" x2="416.50" y2="181.80" stroke="#111" stroke-width="1.1" />
<line x1="479.70" y1="178.80" x2="479.70" y2="181.80" stroke="#111" stroke-width="1.1" />
<text x="348.40" y="193.50" font-size="8.6" font-weight="normal" fill="#111" stroke="#111" stroke-width="0.15" textLength="8.30" lengthAdjust="spacingAndGlyphs">IS</text>
<text x="410.00" y="193.50" font-size="8.6" font-weight="normal" fill="#111" stroke="#111" stroke-width="0.15" textLength="12.90" lengthAdjust="spacingAndGlyphs">TIA</text>
<text x="465.50" y="193.50" font-size="8.6" font-weight="normal" fill="#111" stroke="#111" stroke-width="0.15" textLength="28.30" lengthAdjust="spacingAndGlyphs">Control</text>
<text x="0" y="0" font-size="10.2" fill="#111" stroke="#111" stroke-width="0.35" text-anchor="middle" textLength="18.6" lengthAdjust="spacingAndGlyphs" transform="translate(291.70,113.00) rotate(-90)">IU/dL</text>
<text x="321.50" y="67.00" font-size="7.0" font-weight="normal" fill="#1a1a1a" stroke="#1a1a1a" stroke-width="0.1" textLength="61.50" lengthAdjust="spacingAndGlyphs">Median 188.8 IU/dL</text>
<text x="386.10" y="73.60" font-size="7.0" font-weight="normal" fill="#1a1a1a" stroke="#1a1a1a" stroke-width="0.1" textLength="60.40" lengthAdjust="spacingAndGlyphs">Median 159.8IU/dL</text>
<text x="450.20" y="77.20" font-size="7.0" font-weight="normal" fill="#1a1a1a" stroke="#1a1a1a" stroke-width="0.1" textLength="60.00" lengthAdjust="spacingAndGlyphs">Median 140.4IU/dL</text>
<text x="7.80" y="223.70" font-size="12.9" font-weight="bold" fill="#000" stroke="#000" stroke-width="0.45">C</text>
<text x="77.20" y="236.00" font-size="10.5" font-weight="normal" fill="#111" textLength="157.30" lengthAdjust="spacingAndGlyphs">Presentation FVIII between groups</text>
<text x="117.30" y="265.30" font-size="7.8" font-weight="normal" fill="#111" stroke="#111" stroke-width="0.12" textLength="77.30" lengthAdjust="spacingAndGlyphs">KW= 12.47, p=0.002</text>
<line x1="88.30" y1="270.70" x2="223.50" y2="270.70" stroke="#222" stroke-width="1.4" />
<line x1="88.30" y1="266.80" x2="88.30" y2="274.60" stroke="#111" stroke-width="1.2" />
<line x1="223.50" y1="266.80" x2="223.50" y2="274.60" stroke="#111" stroke-width="1.2" />
<line x1="55.80" y1="367.80" x2="256.40" y2="367.80" stroke="#555" stroke-width="1.3" stroke-dasharray="1.2 1.2"/>
<line x1="55.80" y1="393.15" x2="256.40" y2="393.15" stroke="#555" stroke-width="1.3" stroke-dasharray="1.2 1.2"/>
<g fill="#a2001a"><circle cx="88.10" cy="297.80" r="1.3"/><circle cx="86.10" cy="318.50" r="1.3"/><circle cx="92.30" cy="321.70" r="1.3"/><circle cx="90.30" cy="324.40" r="1.3"/><circle cx="86.10" cy="328.30" r="1.3"/><circle cx="81.90" cy="332.70" r="1.3"/><circle cx="94.20" cy="333.50" r="1.3"/><circle cx="86.10" cy="336.00" r="1.3"/><circle cx="90.30" cy="336.00" r="1.3"/><circle cx="94.20" cy="341.70" r="1.3"/><circle cx="81.90" cy="342.50" r="1.3"/><circle cx="90.30" cy="343.40" r="1.3"/><circle cx="86.10" cy="344.70" r="1.3"/><circle cx="77.80" cy="347.60" r="1.3"/><circle cx="98.50" cy="348.20" r="1.3"/><circle cx="81.90" cy="348.50" r="1.3"/><circle cx="94.20" cy="348.90" r="1.3"/><circle cx="86.10" cy="349.50" r="1.3"/><circle cx="90.30" cy="349.80" r="1.3"/><circle cx="94.20" cy="353.40" r="1.3"/><circle cx="82.20" cy="355.30" r="1.3"/><circle cx="90.30" cy="355.60" r="1.3"/><circle cx="86.50" cy="356.60" r="1.3"/><circle cx="104.50" cy="360.20" r="1.3"/><circle cx="71.90" cy="361.10" r="1.3"/><circle cx="100.30" cy="361.10" r="1.3"/><circle cx="76.10" cy="361.50" r="1.3"/><circle cx="96.40" cy="362.00" r="1.3"/><circle cx="80.00" cy="362.40" r="1.3"/><circle cx="92.30" cy="362.40" r="1.3"/><circle cx="84.30" cy="363.10" r="1.3"/><circle cx="88.40" cy="363.10" r="1.3"/><circle cx="106.50" cy="364.60" r="1.3"/><circle cx="68.00" cy="365.00" r="1.3"/><circle cx="71.90" cy="365.40" r="1.3"/><circle cx="102.30" cy="365.40" r="1.3"/><circle cx="98.50" cy="365.90" r="1.3"/><circle cx="76.10" cy="366.30" r="1.3"/><circle cx="80.00" cy="367.20" r="1.3"/><circle cx="94.60" cy="367.20" r="1.3"/><circle cx="86.50" cy="368.10" r="1.3"/><circle cx="90.30" cy="368.10" r="1.3"/><circle cx="70.10" cy="368.90" r="1.3"/><circle cx="106.70" cy="369.30" r="1.3"/><circle cx="73.90" cy="369.50" r="1.3"/><circle cx="102.60" cy="369.80" r="1.3"/><circle cx="78.10" cy="370.50" r="1.3"/><circle cx="62.00" cy="371.00" r="1.3"/><circle cx="66.00" cy="371.00" r="1.3"/><circle cx="110.00" cy="371.00" r="1.3"/><circle cx="114.00" cy="371.00" r="1.3"/><circle cx="81.00" cy="371.60" r="1.3"/><circle cx="95.00" cy="371.60" r="1.3"/><circle cx="99.00" cy="371.60" r="1.3"/><circle cx="109.70" cy="373.40" r="1.3"/><circle cx="67.10" cy="373.60" r="1.3"/><circle cx="105.80" cy="374.00" r="1.3"/><circle cx="71.00" cy="374.40" r="1.3"/><circle cx="101.90" cy="374.40" r="1.3"/><circle cx="75.20" cy="374.90" r="1.3"/><circle cx="98.10" cy="375.30" r="1.3"/><circle cx="79.10" cy="375.70" r="1.3"/><circle cx="94.20" cy="376.00" r="1.3"/><circle cx="83.00" cy="376.20" r="1.3"/><circle cx="86.80" cy="376.60" r="1.3"/><circle cx="90.30" cy="376.60" r="1.3"/><circle cx="67.50" cy="377.30" r="1.3"/><circle cx="108.80" cy="377.30" r="1.3"/><circle cx="71.40" cy="377.50" r="1.3"/><circle cx="105.80" cy="377.90" r="1.3"/><circle cx="74.20" cy="378.30" r="1.3"/><circle cx="102.30" cy="378.50" r="1.3"/><circle cx="77.00" cy="378.80" r="1.3"/><circle cx="99.00" cy="379.20" r="1.3"/><circle cx="80.40" cy="379.80" r="1.3"/><circle cx="95.90" cy="379.80" r="1.3"/><circle cx="83.50" cy="380.50" r="1.3"/><circle cx="92.90" cy="380.90" r="1.3"/><circle cx="87.70" cy="381.10" r="1.3"/><circle cx="89.90" cy="382.40" r="1.3"/><circle cx="68.00" cy="382.20" r="1.3"/><circle cx="71.90" cy="383.50" r="1.3"/><circle cx="76.10" cy="383.50" r="1.3"/><circle cx="106.50" cy="383.50" r="1.3"/><circle cx="80.00" cy="384.00" r="1.3"/><circle cx="102.30" cy="384.00" r="1.3"/><circle cx="96.40" cy="384.40" r="1.3"/><circle cx="84.30" cy="385.00" r="1.3"/><circle cx="92.00" cy="385.30" r="1.3"/><circle cx="88.10" cy="385.60" r="1.3"/><circle cx="73.90" cy="386.50" r="1.3"/><circle cx="77.80" cy="386.50" r="1.3"/><circle cx="104.50" cy="386.50" r="1.3"/><circle cx="81.70" cy="386.90" r="1.3"/><circle cx="100.30" cy="386.90" r="1.3"/><circle cx="96.40" cy="389.50" r="1.3"/><circle cx="86.50" cy="389.90" r="1.3"/><circle cx="92.30" cy="389.90" r="1.3"/><circle cx="90.30" cy="390.80" r="1.3"/><circle cx="86.50" cy="394.70" r="1.3"/><rect x="154.35" y="306.35" width="2.5" height="2.5"/><rect x="154.35" y="339.55" width="2.5" height="2.5"/><rect x="144.25" y="358.75" width="2.5" height="2.5"/><rect x="166.55" y="359.05" width="2.5" height="2.5"/><rect x="148.35" y="359.35" width="2.5" height="2.5"/><rect x="160.75" y="360.25" width="2.5" height="2.5"/><rect x="152.55" y="361.05" width="2.5" height="2.5"/><rect x="156.65" y="361.05" width="2.5" height="2.5"/><rect x="164.55" y="362.85" width="2.5" height="2.5"/><rect x="144.25" y="364.55" width="2.5" height="2.5"/><rect x="160.75" y="364.95" width="2.5" height="2.5"/><rect x="148.65" y="365.15" width="2.5" height="2.5"/><rect x="156.65" y="366.15" width="2.5" height="2.5"/><rect x="152.55" y="366.55" width="2.5" height="2.5"/><rect x="170.95" y="367.25" width="2.5" height="2.5"/><rect x="138.05" y="367.75" width="2.5" height="2.5"/><rect x="142.25" y="369.25" width="2.5" height="2.5"/><rect x="166.95" y="369.25" width="2.5" height="2.5"/><rect x="146.65" y="370.45" width="2.5" height="2.5"/><rect x="162.75" y="370.45" width="2.5" height="2.5"/><rect x="150.55" y="370.85" width="2.5" height="2.5"/><rect x="158.75" y="370.85" width="2.5" height="2.5"/><rect x="154.55" y="371.05" width="2.5" height="2.5"/><rect x="133.75" y="372.05" width="2.5" height="2.5"/><rect x="174.95" y="372.05" width="2.5" height="2.5"/><rect x="137.45" y="372.55" width="2.5" height="2.5"/><rect x="171.25" y="372.55" width="2.5" height="2.5"/><rect x="141.15" y="373.05" width="2.5" height="2.5"/><rect x="167.55" y="373.05" width="2.5" height="2.5"/><rect x="144.85" y="373.55" width="2.5" height="2.5"/><rect x="163.85" y="373.55" width="2.5" height="2.5"/><rect x="148.55" y="374.05" width="2.5" height="2.5"/><rect x="160.15" y="374.05" width="2.5" height="2.5"/><rect x="152.35" y="374.35" width="2.5" height="2.5"/><rect x="156.55" y="374.35" width="2.5" height="2.5"/><rect x="133.75" y="376.35" width="2.5" height="2.5"/><rect x="175.15" y="376.35" width="2.5" height="2.5"/><rect x="172.15" y="376.65" width="2.5" height="2.5"/><rect x="137.85" y="376.95" width="2.5" height="2.5"/><rect x="168.55" y="377.15" width="2.5" height="2.5"/><rect x="141.55" y="377.55" width="2.5" height="2.5"/><rect x="165.05" y="377.85" width="2.5" height="2.5"/><rect x="144.85" y="378.65" width="2.5" height="2.5"/><rect x="161.55" y="378.65" width="2.5" height="2.5"/><rect x="148.35" y="379.05" width="2.5" height="2.5"/><rect x="157.75" y="379.05" width="2.5" height="2.5"/><rect x="151.95" y="379.55" width="2.5" height="2.5"/><rect x="174.45" y="380.25" width="2.5" height="2.5"/><rect x="134.05" y="380.45" width="2.5" height="2.5"/><rect x="137.85" y="381.05" width="2.5" height="2.5"/><rect x="170.75" y="381.35" width="2.5" height="2.5"/><rect x="166.55" y="381.85" width="2.5" height="2.5"/><rect x="141.95" y="382.25" width="2.5" height="2.5"/><rect x="146.05" y="382.75" width="2.5" height="2.5"/><rect x="162.75" y="382.75" width="2.5" height="2.5"/><rect x="156.35" y="383.35" width="2.5" height="2.5"/><rect x="152.55" y="383.75" width="2.5" height="2.5"/><rect x="172.85" y="384.15" width="2.5" height="2.5"/><rect x="136.05" y="384.55" width="2.5" height="2.5"/><rect x="168.55" y="384.55" width="2.5" height="2.5"/><rect x="140.15" y="384.95" width="2.5" height="2.5"/><rect x="164.55" y="384.95" width="2.5" height="2.5"/><rect x="144.25" y="385.35" width="2.5" height="2.5"/><rect x="160.35" y="385.35" width="2.5" height="2.5"/><rect x="148.15" y="386.35" width="2.5" height="2.5"/><rect x="154.55" y="388.45" width="2.5" height="2.5"/><rect x="162.75" y="388.45" width="2.5" height="2.5"/><rect x="146.05" y="388.65" width="2.5" height="2.5"/><rect x="150.55" y="389.25" width="2.5" height="2.5"/><rect x="158.75" y="389.55" width="2.5" height="2.5"/><rect x="145.75" y="392.55" width="2.5" height="2.5"/><rect x="150.25" y="392.55" width="2.5" height="2.5"/><rect x="158.75" y="392.55" width="2.5" height="2.5"/><rect x="163.25" y="392.55" width="2.5" height="2.5"/><rect x="154.55" y="393.55" width="2.5" height="2.5"/><path d="M223.95 284.20L225.40 281.59L226.85 284.20Z"/><path d="M219.45 288.11L220.90 285.50L222.35 288.11Z"/><path d="M221.75 321.91L223.20 319.30L224.65 321.91Z"/><path d="M221.75 328.00L223.20 325.39L224.65 328.00Z"/><path d="M219.45 336.70L220.90 334.09L222.35 336.70Z"/><path d="M223.95 337.91L225.40 335.30L226.85 337.91Z"/><path d="M223.95 342.81L225.40 340.19L226.85 342.81Z"/><path d="M220.05 346.70L221.50 344.09L222.95 346.70Z"/><path d="M223.85 351.41L225.30 348.80L226.75 351.41Z"/><path d="M220.05 355.70L221.50 353.09L222.95 355.70Z"/><path d="M215.85 363.11L217.30 360.50L218.75 363.11Z"/><path d="M228.05 363.11L229.50 360.50L230.95 363.11Z"/><path d="M220.05 363.81L221.50 361.19L222.95 363.81Z"/><path d="M223.85 363.81L225.30 361.19L226.75 363.81Z"/><path d="M240.35 366.70L241.80 364.09L243.25 366.70Z"/><path d="M201.25 366.91L202.70 364.30L204.15 366.91Z"/><path d="M236.05 367.41L237.50 364.80L238.95 367.41Z"/><path d="M204.85 367.81L206.30 365.19L207.75 367.81Z"/><path d="M231.85 368.11L233.30 365.50L234.75 368.11Z"/><path d="M211.85 368.31L213.30 365.69L214.75 368.31Z"/><path d="M228.45 368.31L229.90 365.69L231.35 368.31Z"/><path d="M216.05 368.81L217.50 366.19L218.95 368.81Z"/><path d="M224.25 368.81L225.70 366.19L227.15 368.81Z"/><path d="M207.65 369.50L209.10 366.89L210.55 369.50Z"/><path d="M220.05 369.50L221.50 366.89L222.95 369.50Z"/><path d="M238.35 369.81L239.80 367.19L241.25 369.81Z"/><path d="M203.65 370.61L205.10 368.00L206.55 370.61Z"/><path d="M234.35 370.61L235.80 368.00L237.25 370.61Z"/><path d="M230.45 371.20L231.90 368.59L233.35 371.20Z"/><path d="M211.85 373.41L213.30 370.80L214.75 373.41Z"/><path d="M226.25 373.70L227.70 371.09L229.15 373.70Z"/><path d="M216.05 374.00L217.50 371.39L218.95 374.00Z"/><path d="M205.95 375.11L207.40 372.50L208.85 375.11Z"/><path d="M238.35 375.41L239.80 372.80L241.25 375.41Z"/><path d="M210.15 375.81L211.60 373.19L213.05 375.81Z"/><path d="M234.35 375.81L235.80 373.19L237.25 375.81Z"/><path d="M230.45 376.20L231.90 373.59L233.35 376.20Z"/><path d="M214.65 376.50L216.10 373.89L217.55 376.50Z"/><path d="M201.05 377.50L202.50 374.89L203.95 377.50Z"/><path d="M243.05 377.50L244.50 374.89L245.95 377.50Z"/><path d="M204.55 378.00L206.00 375.39L207.45 378.00Z"/><path d="M239.55 378.00L241.00 375.39L242.45 378.00Z"/><path d="M208.05 378.50L209.50 375.89L210.95 378.50Z"/><path d="M236.05 378.50L237.50 375.89L238.95 378.50Z"/><path d="M211.55 379.00L213.00 376.39L214.45 379.00Z"/><path d="M232.55 379.00L234.00 376.39L235.45 379.00Z"/><path d="M215.05 379.50L216.50 376.89L217.95 379.50Z"/><path d="M229.05 379.50L230.50 376.89L231.95 379.50Z"/><path d="M218.55 380.00L220.00 377.39L221.45 380.00Z"/><path d="M225.55 380.00L227.00 377.39L228.45 380.00Z"/><path d="M222.05 380.50L223.50 377.89L224.95 380.50Z"/><path d="M241.45 382.81L242.90 380.19L244.35 382.81Z"/><path d="M202.25 383.31L203.70 380.69L205.15 383.31Z"/><path d="M238.35 383.31L239.80 380.69L241.25 383.31Z"/><path d="M205.55 383.81L207.00 381.19L208.45 383.81Z"/><path d="M235.05 383.81L236.50 381.19L237.95 383.81Z"/><path d="M208.35 384.31L209.80 381.69L211.25 384.31Z"/><path d="M231.85 384.70L233.30 382.09L234.75 384.70Z"/><path d="M211.55 385.00L213.00 382.39L214.45 385.00Z"/><path d="M214.65 385.20L216.10 382.59L217.55 385.20Z"/><path d="M228.05 385.20L229.50 382.59L230.95 385.20Z"/><path d="M217.75 386.11L219.20 383.50L220.65 386.11Z"/><path d="M224.85 386.11L226.30 383.50L227.75 386.11Z"/><path d="M203.45 387.50L204.90 384.89L206.35 387.50Z"/><path d="M240.05 387.81L241.50 385.19L242.95 387.81Z"/><path d="M207.65 388.50L209.10 385.89L210.55 388.50Z"/><path d="M211.55 388.50L213.00 385.89L214.45 388.50Z"/><path d="M236.55 388.50L238.00 385.89L239.45 388.50Z"/><path d="M232.25 389.20L233.70 386.59L235.15 389.20Z"/><path d="M215.85 390.31L217.30 387.69L218.75 390.31Z"/><path d="M228.05 390.31L229.50 387.69L230.95 390.31Z"/><path d="M220.05 390.61L221.50 388.00L222.95 390.61Z"/><path d="M224.25 390.91L225.70 388.30L227.15 390.91Z"/><path d="M209.75 391.70L211.20 389.09L212.65 391.70Z"/><path d="M230.45 393.41L231.90 390.80L233.35 393.41Z"/><path d="M234.35 393.41L235.80 390.80L237.25 393.41Z"/><path d="M213.25 393.70L214.70 391.09L216.15 393.70Z"/><path d="M217.55 394.11L219.00 391.50L220.45 394.11Z"/><path d="M225.95 394.11L227.40 391.50L228.85 394.11Z"/><path d="M221.75 396.20L223.20 393.59L224.65 396.20Z"/></g>
<line x1="88.30" y1="298.17" x2="88.30" y2="394.00" stroke="#1a1a1a" stroke-width="1.2" />
<line x1="77.00" y1="298.17" x2="99.60" y2="298.17" stroke="#1a1a1a" stroke-width="1.3" />
<line x1="77.00" y1="394.00" x2="99.60" y2="394.00" stroke="#1a1a1a" stroke-width="1.3" />
<line x1="61.00" y1="371.42" x2="115.60" y2="371.42" stroke="#0a0a0a" stroke-width="2.0" />
<line x1="155.60" y1="307.47" x2="155.60" y2="394.33" stroke="#1a1a1a" stroke-width="1.2" />
<line x1="144.30" y1="307.47" x2="166.90" y2="307.47" stroke="#1a1a1a" stroke-width="1.3" />
<line x1="144.30" y1="394.33" x2="166.90" y2="394.33" stroke="#1a1a1a" stroke-width="1.3" />
<line x1="128.30" y1="376.30" x2="182.90" y2="376.30" stroke="#0a0a0a" stroke-width="2.0" />
<line x1="223.50" y1="282.45" x2="223.50" y2="393.83" stroke="#1a1a1a" stroke-width="1.2" />
<line x1="212.20" y1="282.45" x2="234.80" y2="282.45" stroke="#1a1a1a" stroke-width="1.3" />
<line x1="212.20" y1="393.83" x2="234.80" y2="393.83" stroke="#1a1a1a" stroke-width="1.3" />
<line x1="196.20" y1="377.50" x2="250.80" y2="377.50" stroke="#0a0a0a" stroke-width="2.0" />
<line x1="54.30" y1="263.50" x2="54.30" y2="402.40" stroke="#111" stroke-width="1.4" />
<line x1="50.80" y1="401.60" x2="256.90" y2="401.60" stroke="#1a1a1a" stroke-width="1.7" />
<text x="47.70" y="404.40" font-size="8.3" fill="#111" stroke="#111" stroke-width="0.15" text-anchor="end" textLength="5.05" lengthAdjust="spacingAndGlyphs">0</text>
<line x1="50.70" y1="367.80" x2="54.30" y2="367.80" stroke="#111" stroke-width="1.2" />
<text x="47.70" y="370.60" font-size="8.3" fill="#111" stroke="#111" stroke-width="0.15" text-anchor="end" textLength="15.15" lengthAdjust="spacingAndGlyphs">200</text>
<line x1="50.70" y1="334.00" x2="54.30" y2="334.00" stroke="#111" stroke-width="1.2" />
<text x="47.70" y="336.80" font-size="8.3" fill="#111" stroke="#111" stroke-width="0.15" text-anchor="end" textLength="15.15" lengthAdjust="spacingAndGlyphs">400</text>
<line x1="50.70" y1="300.20" x2="54.30" y2="300.20" stroke="#111" stroke-width="1.2" />
<text x="47.70" y="303.00" font-size="8.3" fill="#111" stroke="#111" stroke-width="0.15" text-anchor="end" textLength="15.15" lengthAdjust="spacingAndGlyphs">600</text>
<line x1="50.70" y1="266.40" x2="54.30" y2="266.40" stroke="#111" stroke-width="1.2" />
<text x="47.70" y="269.20" font-size="8.3" fill="#111" stroke="#111" stroke-width="0.15" text-anchor="end" textLength="15.15" lengthAdjust="spacingAndGlyphs">800</text>
<line x1="88.30" y1="401.60" x2="88.30" y2="404.60" stroke="#111" stroke-width="1.1" />
<line x1="155.60" y1="401.60" x2="155.60" y2="404.60" stroke="#111" stroke-width="1.1" />
<line x1="223.50" y1="401.60" x2="223.50" y2="404.60" stroke="#111" stroke-width="1.1" />
<text x="84.00" y="416.20" font-size="8.6" font-weight="normal" fill="#111" stroke="#111" stroke-width="0.15" textLength="8.30" lengthAdjust="spacingAndGlyphs">IS</text>
<text x="149.40" y="416.20" font-size="8.6" font-weight="normal" fill="#111" stroke="#111" stroke-width="0.15" textLength="12.70" lengthAdjust="spacingAndGlyphs">TIA</text>
<text x="209.00" y="416.20" font-size="8.6" font-weight="normal" fill="#111" stroke="#111" stroke-width="0.15" textLength="28.50" lengthAdjust="spacingAndGlyphs">Control</text>
<text x="0" y="0" font-size="10.2" fill="#111" stroke="#111" stroke-width="0.35" text-anchor="middle" textLength="18.6" lengthAdjust="spacingAndGlyphs" transform="translate(25.60,332.50) rotate(-90)">IU/dL</text>
<text x="58.40" y="293.20" font-size="7.0" font-weight="normal" fill="#1a1a1a" stroke="#1a1a1a" stroke-width="0.1" textLength="59.10" lengthAdjust="spacingAndGlyphs">Median 178.6IU/dL</text>
<text x="125.70" y="302.80" font-size="7.0" font-weight="normal" fill="#1a1a1a" stroke="#1a1a1a" stroke-width="0.1" textLength="59.90" lengthAdjust="spacingAndGlyphs">Median 149.7IU/dL</text>
<text x="193.50" y="279.60" font-size="7.0" font-weight="normal" fill="#1a1a1a" stroke="#1a1a1a" stroke-width="0.1" textLength="59.60" lengthAdjust="spacingAndGlyphs">Median 142.6IU/dL</text>
<text x="274.10" y="223.20" font-size="12.9" font-weight="bold" fill="#000" stroke="#000" stroke-width="0.45">D</text>
<text x="307.50" y="236.20" font-size="10.5" font-weight="normal" fill="#111" textLength="203.80" lengthAdjust="spacingAndGlyphs">Presentation ADAMTS13Ac between groups</text>
<text x="337.60" y="249.20" font-size="7.8" font-weight="normal" fill="#111" stroke="#111" stroke-width="0.12" textLength="141.50" lengthAdjust="spacingAndGlyphs">Kruskal Wallis statistic= 25.2, p&lt;0.0001</text>
<line x1="348.60" y1="255.00" x2="468.00" y2="255.00" stroke="#222" stroke-width="1.4" />
<line x1="348.60" y1="251.10" x2="348.60" y2="258.90" stroke="#111" stroke-width="1.2" />
<line x1="468.00" y1="251.10" x2="468.00" y2="258.90" stroke="#111" stroke-width="1.2" />
<line x1="322.00" y1="272.18" x2="497.30" y2="272.18" stroke="#555" stroke-width="1.3" stroke-dasharray="1.2 1.2"/>
<line x1="322.00" y1="338.71" x2="497.30" y2="338.71" stroke="#555" stroke-width="1.3" stroke-dasharray="1.2 1.2"/>
<g fill="#a2001a"><circle cx="346.40" cy="289.70" r="1.3"/><circle cx="353.50" cy="289.90" r="1.3"/><circle cx="349.90" cy="290.60" r="1.3"/><circle cx="348.10" cy="296.20" r="1.3"/><circle cx="351.90" cy="298.80" r="1.3"/><circle cx="333.70" cy="299.70" r="1.3"/><circle cx="366.00" cy="300.00" r="1.3"/><circle cx="337.50" cy="300.50" r="1.3"/><circle cx="341.00" cy="301.70" r="1.3"/><circle cx="362.50" cy="301.70" r="1.3"/><circle cx="346.60" cy="302.60" r="1.3"/><circle cx="357.20" cy="302.60" r="1.3"/><circle cx="353.70" cy="302.80" r="1.3"/><circle cx="350.20" cy="303.50" r="1.3"/><circle cx="335.80" cy="304.00" r="1.3"/><circle cx="364.00" cy="304.40" r="1.3"/><circle cx="339.40" cy="305.50" r="1.3"/><circle cx="360.70" cy="306.10" r="1.3"/><circle cx="343.10" cy="306.40" r="1.3"/><circle cx="346.60" cy="307.90" r="1.3"/><circle cx="351.90" cy="307.90" r="1.3"/><circle cx="357.00" cy="307.90" r="1.3"/><circle cx="333.20" cy="309.10" r="1.3"/><circle cx="336.10" cy="309.40" r="1.3"/><circle cx="362.50" cy="309.40" r="1.3"/><circle cx="364.60" cy="309.40" r="1.3"/><circle cx="366.80" cy="309.40" r="1.3"/><circle cx="338.40" cy="309.60" r="1.3"/><circle cx="341.40" cy="309.90" r="1.3"/><circle cx="357.20" cy="311.10" r="1.3"/><circle cx="343.10" cy="311.40" r="1.3"/><circle cx="353.70" cy="311.80" r="1.3"/><circle cx="346.60" cy="312.20" r="1.3"/><circle cx="350.20" cy="313.20" r="1.3"/><circle cx="332.00" cy="313.80" r="1.3"/><circle cx="368.00" cy="314.60" r="1.3"/><circle cx="334.70" cy="314.90" r="1.3"/><circle cx="364.80" cy="314.90" r="1.3"/><circle cx="337.30" cy="315.50" r="1.3"/><circle cx="360.70" cy="315.80" r="1.3"/><circle cx="340.20" cy="316.10" r="1.3"/><circle cx="357.80" cy="316.10" r="1.3"/><circle cx="354.90" cy="316.50" r="1.3"/><circle cx="343.10" cy="316.70" r="1.3"/><circle cx="346.10" cy="316.90" r="1.3"/><circle cx="350.00" cy="316.90" r="1.3"/><circle cx="346.60" cy="319.00" r="1.3"/><circle cx="332.00" cy="319.30" r="1.3"/><circle cx="351.90" cy="319.30" r="1.3"/><circle cx="335.50" cy="319.60" r="1.3"/><circle cx="366.00" cy="320.00" r="1.3"/><circle cx="339.40" cy="320.20" r="1.3"/><circle cx="362.50" cy="320.40" r="1.3"/><circle cx="357.00" cy="322.00" r="1.3"/><circle cx="342.90" cy="322.30" r="1.3"/><circle cx="346.60" cy="322.30" r="1.3"/><circle cx="353.50" cy="322.30" r="1.3"/><circle cx="360.70" cy="323.10" r="1.3"/><circle cx="364.00" cy="323.10" r="1.3"/><circle cx="333.70" cy="323.50" r="1.3"/><circle cx="361.00" cy="324.90" r="1.3"/><circle cx="337.30" cy="326.10" r="1.3"/><circle cx="357.20" cy="326.30" r="1.3"/><circle cx="342.90" cy="326.70" r="1.3"/><circle cx="346.60" cy="327.00" r="1.3"/><circle cx="353.50" cy="327.00" r="1.3"/><circle cx="359.30" cy="327.80" r="1.3"/><circle cx="339.40" cy="329.60" r="1.3"/><circle cx="354.90" cy="329.60" r="1.3"/><circle cx="342.90" cy="330.90" r="1.3"/><circle cx="351.90" cy="331.40" r="1.3"/><circle cx="348.10" cy="332.50" r="1.3"/><circle cx="343.40" cy="333.40" r="1.3"/><circle cx="361.00" cy="333.40" r="1.3"/><circle cx="340.80" cy="334.10" r="1.3"/><circle cx="344.30" cy="334.30" r="1.3"/><circle cx="357.00" cy="336.20" r="1.3"/><circle cx="348.10" cy="336.70" r="1.3"/><circle cx="353.50" cy="336.70" r="1.3"/><circle cx="355.50" cy="337.70" r="1.3"/><circle cx="342.90" cy="340.80" r="1.3"/><circle cx="351.90" cy="340.80" r="1.3"/><circle cx="348.10" cy="342.40" r="1.3"/><circle cx="357.00" cy="342.80" r="1.3"/><circle cx="341.00" cy="343.50" r="1.3"/><circle cx="353.50" cy="344.40" r="1.3"/><circle cx="344.50" cy="344.70" r="1.3"/><circle cx="349.90" cy="347.10" r="1.3"/><circle cx="346.40" cy="348.20" r="1.3"/><circle cx="353.50" cy="350.80" r="1.3"/><circle cx="349.90" cy="351.80" r="1.3"/><circle cx="348.10" cy="358.50" r="1.3"/><circle cx="353.50" cy="359.00" r="1.3"/><circle cx="351.90" cy="362.30" r="1.3"/><circle cx="348.10" cy="363.70" r="1.3"/><rect x="407.85" y="273.75" width="2.5" height="2.5"/><rect x="403.95" y="280.85" width="2.5" height="2.5"/><rect x="409.85" y="281.05" width="2.5" height="2.5"/><rect x="402.25" y="282.95" width="2.5" height="2.5"/><rect x="413.05" y="283.45" width="2.5" height="2.5"/><rect x="405.95" y="285.25" width="2.5" height="2.5"/><rect x="409.55" y="286.15" width="2.5" height="2.5"/><rect x="395.15" y="288.45" width="2.5" height="2.5"/><rect x="420.45" y="288.45" width="2.5" height="2.5"/><rect x="398.95" y="290.25" width="2.5" height="2.5"/><rect x="416.85" y="290.25" width="2.5" height="2.5"/><rect x="413.05" y="291.35" width="2.5" height="2.5"/><rect x="402.85" y="291.65" width="2.5" height="2.5"/><rect x="409.85" y="292.35" width="2.5" height="2.5"/><rect x="406.35" y="293.15" width="2.5" height="2.5"/><rect x="414.95" y="294.35" width="2.5" height="2.5"/><rect x="398.95" y="296.65" width="2.5" height="2.5"/><rect x="402.85" y="297.85" width="2.5" height="2.5"/><rect x="411.65" y="297.85" width="2.5" height="2.5"/><rect x="397.25" y="299.35" width="2.5" height="2.5"/><rect x="418.65" y="299.65" width="2.5" height="2.5"/><rect x="400.85" y="301.75" width="2.5" height="2.5"/><rect x="414.95" y="301.75" width="2.5" height="2.5"/><rect x="403.95" y="301.95" width="2.5" height="2.5"/><rect x="411.35" y="302.15" width="2.5" height="2.5"/><rect x="425.65" y="304.05" width="2.5" height="2.5"/><rect x="389.95" y="304.35" width="2.5" height="2.5"/><rect x="423.15" y="304.55" width="2.5" height="2.5"/><rect x="392.85" y="304.85" width="2.5" height="2.5"/><rect x="420.05" y="305.25" width="2.5" height="2.5"/><rect x="396.15" y="305.45" width="2.5" height="2.5"/><rect x="416.85" y="305.45" width="2.5" height="2.5"/><rect x="413.95" y="305.75" width="2.5" height="2.5"/><rect x="399.25" y="306.05" width="2.5" height="2.5"/><rect x="402.25" y="306.45" width="2.5" height="2.5"/><rect x="411.05" y="306.45" width="2.5" height="2.5"/><rect x="405.95" y="307.35" width="2.5" height="2.5"/><rect x="409.35" y="307.35" width="2.5" height="2.5"/><rect x="405.75" y="309.55" width="2.5" height="2.5"/><rect x="409.85" y="309.55" width="2.5" height="2.5"/><rect x="391.65" y="310.15" width="2.5" height="2.5"/><rect x="423.55" y="310.45" width="2.5" height="2.5"/><rect x="395.15" y="311.15" width="2.5" height="2.5"/><rect x="420.45" y="311.15" width="2.5" height="2.5"/><rect x="416.85" y="311.35" width="2.5" height="2.5"/><rect x="398.95" y="311.55" width="2.5" height="2.5"/><rect x="413.95" y="311.95" width="2.5" height="2.5"/><rect x="402.25" y="312.25" width="2.5" height="2.5"/><rect x="418.05" y="313.45" width="2.5" height="2.5"/><rect x="396.95" y="313.75" width="2.5" height="2.5"/><rect x="414.15" y="313.75" width="2.5" height="2.5"/><rect x="400.45" y="314.25" width="2.5" height="2.5"/><rect x="411.35" y="314.85" width="2.5" height="2.5"/><rect x="403.95" y="316.05" width="2.5" height="2.5"/><rect x="391.85" y="318.65" width="2.5" height="2.5"/><rect x="395.15" y="319.95" width="2.5" height="2.5"/><rect x="420.65" y="319.95" width="2.5" height="2.5"/><rect x="399.25" y="320.55" width="2.5" height="2.5"/><rect x="416.85" y="320.55" width="2.5" height="2.5"/><rect x="403.05" y="321.05" width="2.5" height="2.5"/><rect x="412.95" y="321.05" width="2.5" height="2.5"/><rect x="423.95" y="318.95" width="2.5" height="2.5"/><rect x="407.95" y="321.85" width="2.5" height="2.5"/><rect x="415.25" y="324.35" width="2.5" height="2.5"/><rect x="400.95" y="324.85" width="2.5" height="2.5"/><rect x="411.55" y="325.15" width="2.5" height="2.5"/><rect x="404.25" y="325.45" width="2.5" height="2.5"/><rect x="407.95" y="327.15" width="2.5" height="2.5"/><rect x="409.95" y="328.15" width="2.5" height="2.5"/><rect x="406.35" y="332.55" width="2.5" height="2.5"/><rect x="407.95" y="339.65" width="2.5" height="2.5"/><rect x="409.95" y="342.95" width="2.5" height="2.5"/><rect x="406.35" y="346.55" width="2.5" height="2.5"/><rect x="407.95" y="353.05" width="2.5" height="2.5"/><rect x="407.95" y="366.55" width="2.5" height="2.5"/><path d="M465.35 268.91L466.80 266.30L468.25 268.91Z"/><path d="M468.45 270.31L469.90 267.69L471.35 270.31Z"/><path d="M463.15 282.70L464.60 280.09L466.05 282.70Z"/><path d="M470.45 283.81L471.90 281.19L473.35 283.81Z"/><path d="M466.75 284.20L468.20 281.59L469.65 284.20Z"/><path d="M457.95 286.81L459.40 284.19L460.85 286.81Z"/><path d="M475.85 287.41L477.30 284.80L478.75 287.41Z"/><path d="M461.45 289.11L462.90 286.50L464.35 289.11Z"/><path d="M472.35 289.11L473.80 286.50L475.25 289.11Z"/><path d="M464.95 289.70L466.40 287.09L467.85 289.70Z"/><path d="M468.45 290.11L469.90 287.50L471.35 290.11Z"/><path d="M455.95 292.41L457.40 289.80L458.85 292.41Z"/><path d="M477.55 292.91L479.00 290.30L480.45 292.91Z"/><path d="M459.65 294.11L461.10 291.50L462.55 294.11Z"/><path d="M473.95 294.11L475.40 291.50L476.85 294.11Z"/><path d="M463.15 294.41L464.60 291.80L466.05 294.41Z"/><path d="M470.45 294.81L471.90 292.19L473.35 294.81Z"/><path d="M466.75 295.00L468.20 292.39L469.65 295.00Z"/><path d="M484.55 295.20L486.00 292.59L487.45 295.20Z"/><path d="M448.85 296.41L450.30 293.80L451.75 296.41Z"/><path d="M481.75 297.31L483.20 294.69L484.65 297.31Z"/><path d="M452.05 297.91L453.50 295.30L454.95 297.91Z"/><path d="M454.95 298.31L456.40 295.69L457.85 298.31Z"/><path d="M478.65 298.31L480.10 295.69L481.55 298.31Z"/><path d="M475.85 298.50L477.30 295.89L478.75 298.50Z"/><path d="M472.35 299.11L473.80 296.50L475.25 299.11Z"/><path d="M457.95 299.50L459.40 296.89L460.85 299.50Z"/><path d="M461.45 299.91L462.90 297.30L464.35 299.91Z"/><path d="M465.15 299.91L466.60 297.30L468.05 299.91Z"/><path d="M468.85 299.91L470.30 297.30L471.75 299.91Z"/><path d="M484.55 301.11L486.00 298.50L487.45 301.11Z"/><path d="M448.85 301.81L450.30 299.19L451.75 301.81Z"/><path d="M452.35 302.61L453.80 300.00L455.25 302.61Z"/><path d="M481.05 302.61L482.50 300.00L483.95 302.61Z"/><path d="M475.85 303.20L477.30 300.59L478.75 303.20Z"/><path d="M457.95 303.41L459.40 300.80L460.85 303.41Z"/><path d="M472.35 303.81L473.80 301.19L475.25 303.81Z"/><path d="M461.45 304.11L462.90 301.50L464.35 304.11Z"/><path d="M465.15 304.11L466.60 301.50L468.05 304.11Z"/><path d="M468.85 304.11L470.30 301.50L471.75 304.11Z"/><path d="M448.55 305.31L450.00 302.69L451.45 305.31Z"/><path d="M484.95 305.31L486.40 302.69L487.85 305.31Z"/><path d="M451.65 306.11L453.10 303.50L454.55 306.11Z"/><path d="M482.25 306.11L483.70 303.50L485.15 306.11Z"/><path d="M454.75 306.70L456.20 304.09L457.65 306.70Z"/><path d="M479.35 306.70L480.80 304.09L482.25 306.70Z"/><path d="M468.85 307.00L470.30 304.39L471.75 307.00Z"/><path d="M472.85 307.00L474.30 304.39L475.75 307.00Z"/><path d="M457.35 307.70L458.80 305.09L460.25 307.70Z"/><path d="M476.15 307.70L477.60 305.09L479.05 307.70Z"/><path d="M460.25 307.91L461.70 305.30L463.15 307.91Z"/><path d="M464.55 307.91L466.00 305.30L467.45 307.91Z"/><path d="M448.55 310.11L450.00 307.50L451.45 310.11Z"/><path d="M485.55 310.11L487.00 307.50L488.45 310.11Z"/><path d="M451.45 310.91L452.90 308.30L454.35 310.91Z"/><path d="M482.25 310.91L483.70 308.30L485.15 310.91Z"/><path d="M454.95 311.41L456.40 308.80L457.85 311.41Z"/><path d="M478.45 311.41L479.90 308.80L481.35 311.41Z"/><path d="M459.05 312.11L460.50 309.50L461.95 312.11Z"/><path d="M474.95 312.11L476.40 309.50L477.85 312.11Z"/><path d="M462.55 312.61L464.00 310.00L465.45 312.61Z"/><path d="M471.35 312.61L472.80 310.00L474.25 312.61Z"/><path d="M466.95 312.91L468.40 310.30L469.85 312.91Z"/><path d="M461.45 313.61L462.90 311.00L464.35 313.61Z"/><path d="M471.85 313.61L473.30 311.00L474.75 313.61Z"/><path d="M448.95 315.20L450.40 312.59L451.85 315.20Z"/><path d="M485.15 315.20L486.60 312.59L488.05 315.20Z"/><path d="M482.05 315.50L483.50 312.89L484.95 315.50Z"/><path d="M451.55 315.81L453.00 313.19L454.45 315.81Z"/><path d="M454.55 316.20L456.00 313.59L457.45 316.20Z"/><path d="M479.45 316.20L480.90 313.59L482.35 316.20Z"/><path d="M476.75 316.70L478.20 314.09L479.65 316.70Z"/><path d="M457.15 317.00L458.60 314.39L460.05 317.00Z"/><path d="M459.95 317.31L461.40 314.69L462.85 317.31Z"/><path d="M462.65 317.31L464.10 314.69L465.55 317.31Z"/><path d="M473.95 317.31L475.40 314.69L476.85 317.31Z"/><path d="M471.85 317.81L473.30 315.19L474.75 317.81Z"/><path d="M465.75 318.50L467.20 315.89L468.65 318.50Z"/><path d="M469.05 318.81L470.50 316.19L471.95 318.81Z"/><path d="M454.55 321.91L456.00 319.30L457.45 321.91Z"/><path d="M479.05 321.91L480.50 319.30L481.95 321.91Z"/><path d="M458.05 323.11L459.50 320.50L460.95 323.11Z"/><path d="M475.95 323.11L477.40 320.50L478.85 323.11Z"/><path d="M472.45 323.91L473.90 321.30L475.35 323.91Z"/><path d="M461.45 324.31L462.90 321.69L464.35 324.31Z"/><path d="M465.25 325.81L466.70 323.19L468.15 325.81Z"/><path d="M468.75 325.81L470.20 323.19L471.65 325.81Z"/><path d="M454.55 328.00L456.00 325.39L457.45 328.00Z"/><path d="M479.05 328.00L480.50 325.39L481.95 328.00Z"/><path d="M458.05 328.91L459.50 326.30L460.95 328.91Z"/><path d="M475.95 329.20L477.40 326.59L478.85 329.20Z"/><path d="M461.45 330.00L462.90 327.39L464.35 330.00Z"/><path d="M472.45 330.41L473.90 327.80L475.35 330.41Z"/><path d="M465.25 331.50L466.70 328.89L468.15 331.50Z"/><path d="M468.75 331.50L470.20 328.89L471.65 331.50Z"/><path d="M468.75 336.50L470.20 333.89L471.65 336.50Z"/><path d="M462.25 337.61L463.70 335.00L465.15 337.61Z"/><path d="M462.95 338.70L464.40 336.09L465.85 338.70Z"/><path d="M472.15 338.70L473.60 336.09L475.05 338.70Z"/><path d="M465.25 340.20L466.70 337.59L468.15 340.20Z"/><path d="M468.75 342.20L470.20 339.59L471.65 342.20Z"/><path d="M463.25 343.70L464.70 341.09L466.15 343.70Z"/><path d="M470.35 346.31L471.80 343.69L473.25 346.31Z"/><path d="M466.75 347.20L468.20 344.59L469.65 347.20Z"/><path d="M465.25 349.41L466.70 346.80L468.15 349.41Z"/><path d="M468.75 351.81L470.20 349.19L471.65 351.81Z"/><path d="M466.75 365.81L468.20 363.19L469.65 365.81Z"/></g>
<line x1="349.80" y1="309.40" x2="349.80" y2="330.60" stroke="#1a1a1a" stroke-width="1.2" />
<line x1="339.20" y1="309.40" x2="360.40" y2="309.40" stroke="#1a1a1a" stroke-width="1.3" />
<line x1="339.20" y1="330.60" x2="360.40" y2="330.60" stroke="#1a1a1a" stroke-width="1.3" />
<line x1="325.00" y1="317.39" x2="374.60" y2="317.39" stroke="#0a0a0a" stroke-width="2.0" />
<line x1="408.80" y1="299.50" x2="408.80" y2="320.20" stroke="#1a1a1a" stroke-width="1.2" />
<line x1="398.20" y1="299.50" x2="419.40" y2="299.50" stroke="#1a1a1a" stroke-width="1.3" />
<line x1="398.20" y1="320.20" x2="419.40" y2="320.20" stroke="#1a1a1a" stroke-width="1.3" />
<line x1="384.00" y1="309.53" x2="433.60" y2="309.53" stroke="#0a0a0a" stroke-width="2.0" />
<line x1="468.40" y1="297.20" x2="468.40" y2="320.30" stroke="#1a1a1a" stroke-width="1.2" />
<line x1="457.80" y1="297.20" x2="479.00" y2="297.20" stroke="#1a1a1a" stroke-width="1.3" />
<line x1="457.80" y1="320.30" x2="479.00" y2="320.30" stroke="#1a1a1a" stroke-width="1.3" />
<line x1="443.60" y1="307.96" x2="493.20" y2="307.96" stroke="#0a0a0a" stroke-width="2.0" />
<line x1="320.50" y1="251.50" x2="320.50" y2="402.40" stroke="#111" stroke-width="1.4" />
<line x1="317.00" y1="401.60" x2="497.80" y2="401.60" stroke="#1a1a1a" stroke-width="1.7" />
<text x="313.90" y="404.40" font-size="8.3" fill="#111" stroke="#111" stroke-width="0.15" text-anchor="end" textLength="5.05" lengthAdjust="spacingAndGlyphs">0</text>
<line x1="316.90" y1="352.47" x2="320.50" y2="352.47" stroke="#111" stroke-width="1.2" />
<text x="313.90" y="355.27" font-size="8.3" fill="#111" stroke="#111" stroke-width="0.15" text-anchor="end" textLength="10.10" lengthAdjust="spacingAndGlyphs">50</text>
<line x1="316.90" y1="303.33" x2="320.50" y2="303.33" stroke="#111" stroke-width="1.2" />
<text x="313.90" y="306.13" font-size="8.3" fill="#111" stroke="#111" stroke-width="0.15" text-anchor="end" textLength="15.15" lengthAdjust="spacingAndGlyphs">100</text>
<line x1="316.90" y1="254.20" x2="320.50" y2="254.20" stroke="#111" stroke-width="1.2" />
<text x="313.90" y="257.00" font-size="8.3" fill="#111" stroke="#111" stroke-width="0.15" text-anchor="end" textLength="15.15" lengthAdjust="spacingAndGlyphs">150</text>
<line x1="349.80" y1="401.60" x2="349.80" y2="404.60" stroke="#111" stroke-width="1.1" />
<line x1="408.80" y1="401.60" x2="408.80" y2="404.60" stroke="#111" stroke-width="1.1" />
<line x1="468.40" y1="401.60" x2="468.40" y2="404.60" stroke="#111" stroke-width="1.1" />
<text x="345.40" y="416.10" font-size="8.6" font-weight="normal" fill="#111" stroke="#111" stroke-width="0.15" textLength="8.80" lengthAdjust="spacingAndGlyphs">IS</text>
<text x="402.60" y="416.10" font-size="8.6" font-weight="normal" fill="#111" stroke="#111" stroke-width="0.15" textLength="12.60" lengthAdjust="spacingAndGlyphs">TIA</text>
<text x="454.20" y="416.10" font-size="8.6" font-weight="normal" fill="#111" stroke="#111" stroke-width="0.15" textLength="27.90" lengthAdjust="spacingAndGlyphs">Control</text>
<text x="0" y="0" font-size="10.2" fill="#111" stroke="#111" stroke-width="0.35" text-anchor="middle" textLength="18.6" lengthAdjust="spacingAndGlyphs" transform="translate(291.80,326.30) rotate(-90)">IU/dL</text>
<text x="322.30" y="284.90" font-size="7.0" font-weight="normal" fill="#1a1a1a" stroke="#1a1a1a" stroke-width="0.1" textLength="55.20" lengthAdjust="spacingAndGlyphs">Median 86.0IU/dL</text>
<text x="381.10" y="269.90" font-size="7.0" font-weight="normal" fill="#1a1a1a" stroke="#1a1a1a" stroke-width="0.1" textLength="56.40" lengthAdjust="spacingAndGlyphs">Median 94.0IU/dL</text>
<text x="440.30" y="265.30" font-size="7.0" font-weight="normal" fill="#1a1a1a" stroke="#1a1a1a" stroke-width="0.1" textLength="56.20" lengthAdjust="spacingAndGlyphs">Median 95.6IU/dL</text>
<rect x="0" y="0" width="520" height="1.5" fill="#000"/>
<rect x="0" y="0" width="1.4" height="426" fill="#000"/>
<rect x="518.7" y="0" width="1.3" height="426" fill="#000"/>
<rect x="0" y="424.4" width="520" height="1.6" fill="#000"/>
</svg></body></html>
